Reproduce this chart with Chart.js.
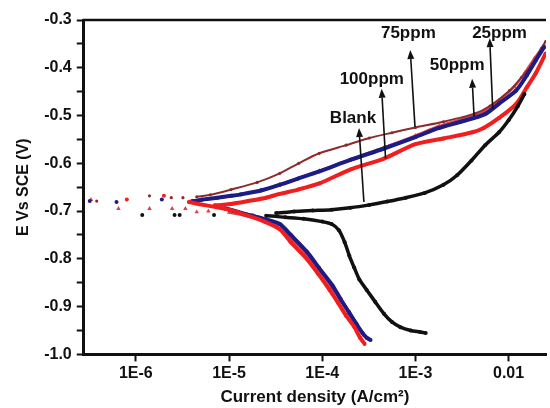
<!DOCTYPE html>
<html>
<head>
<meta charset="utf-8">
<script src="https://cdn.jsdelivr.net/npm/chart.js@4.4.0/dist/chart.umd.min.js"></script>
<style>
  html, body { margin: 0; padding: 0; background: #fff; }
  #wrap { width: 550px; height: 408px; }
</style>
</head>
<body>
<div id="wrap"><canvas id="tafelChart"></canvas></div>
<script>
// Tafel plots: current density (A/cm2) vs potential (V vs SCE)
// each series runs cathodic end -> near Ecorr -> anodic end

const blankI = [1.29e-3, 1.12e-3, 8.9e-4, 6.9e-4, 5.6e-4, 4.6e-4, 3.7e-4, 3.0e-4, 2.5e-4, 2.2e-4, 1.95e-4, 1.74e-4, 1.51e-4, 1.26e-4, 1.0e-4, 6.3e-5, 4.0e-5, 2.5e-5,
  6.9e-6, 2.95e-6, 2.6e-6, 1.17e-6,
  3.2e-5, 5.0e-5, 7.9e-5, 1.26e-4, 2.0e-4, 3.2e-4, 5.0e-4, 7.9e-4, 1.26e-3, 2.0e-3, 2.8e-3, 4.0e-3, 5.6e-3, 7.9e-3, 1.0e-2, 1.26e-2, 1.48e-2];
const blankE = [-0.955, -0.953, -0.950, -0.943, -0.932, -0.915, -0.890, -0.865, -0.843, -0.818, -0.793, -0.765, -0.740, -0.727, -0.722, -0.716, -0.713, -0.710,
  -0.708, -0.708, -0.708, -0.708,
  -0.704, -0.701, -0.699, -0.697, -0.693, -0.687, -0.680, -0.672, -0.662, -0.645, -0.625, -0.594, -0.562, -0.535, -0.510, -0.480, -0.455];

const ppm25I = [3.3e-4, 3.0e-4, 2.7e-4, 2.3e-4, 1.95e-4, 1.58e-4, 1.29e-4, 9.3e-5, 6.9e-5, 4.6e-5, 3.5e-5, 2.3e-5, 1.6e-5, 8.9e-6,
  1.9e-6, 6.2e-7, 3.2e-7,
  4.0e-6, 5.1e-6, 7.5e-6, 1.05e-5, 1.35e-5, 2.2e-5, 3.5e-5, 5.5e-5, 9.3e-5, 2.0e-4, 4.6e-4, 1.0e-3, 1.8e-3, 3.2e-3, 5.6e-3, 7.9e-3, 1.2e-2, 1.58e-2, 1.95e-2, 2.4e-2];
const ppm25E = [-0.970, -0.965, -0.955, -0.935, -0.913, -0.885, -0.856, -0.820, -0.786, -0.750, -0.727, -0.716, -0.708, -0.694,
  -0.676, -0.681, -0.679,
  -0.679, -0.676, -0.672, -0.668, -0.665, -0.657, -0.645, -0.632, -0.617, -0.593, -0.569, -0.545, -0.526, -0.512, -0.497, -0.475, -0.448, -0.415, -0.385, -0.357];

const ppm50I = [3.2e-4, 2.8e-4, 2.4e-4, 2.0e-4, 1.58e-4, 1.26e-4, 9.5e-5, 7.1e-5, 4.8e-5, 3.3e-5, 2.0e-5, 1.0e-5,
  6.0e-6, 4.5e-6, 3.4e-6, 2.45e-6, 1.4e-6, 6.5e-7, 3.3e-7,
  5.0e-6, 8.0e-6, 1.3e-5, 2.2e-5, 3.5e-5, 9.3e-5, 2.0e-4, 4.6e-4, 1.0e-3, 1.8e-3, 3.2e-3, 5.6e-3, 7.9e-3, 1.15e-2, 1.5e-2, 1.9e-2, 2.4e-2];
const ppm50E = [-0.968, -0.960, -0.940, -0.915, -0.887, -0.860, -0.826, -0.795, -0.760, -0.733, -0.716, -0.703,
  -0.700, -0.702, -0.695, -0.695, -0.695, -0.695, -0.676,
  -0.678, -0.672, -0.666, -0.656, -0.644, -0.616, -0.592, -0.567, -0.542, -0.522, -0.507, -0.490, -0.468, -0.440, -0.410, -0.380, -0.352];

const ppm75I = [3.2e-4, 2.75e-4, 2.35e-4, 1.95e-4, 1.58e-4, 1.26e-4, 9.3e-5, 6.8e-5, 4.5e-5, 3.2e-5, 1.8e-5, 1.0e-5,
  2.4e-6, 1.4e-6, 3.8e-7,
  3.2e-6, 4.5e-6, 6.3e-6, 1.05e-5, 2.0e-5, 3.5e-5, 5.6e-5, 9.3e-5, 1.8e-4, 3.2e-4, 5.6e-4, 1.0e-3, 2.0e-3, 4.3e-3, 6.3e-3, 1.02e-2, 1.38e-2, 1.82e-2, 2.24e-2, 2.5e-2];
const ppm75E = [-0.968, -0.958, -0.935, -0.910, -0.882, -0.853, -0.818, -0.783, -0.747, -0.724, -0.708, -0.697,
  -0.672, -0.668, -0.679,
  -0.672, -0.670, -0.666, -0.655, -0.640, -0.621, -0.600, -0.579, -0.562, -0.547, -0.536, -0.525, -0.513, -0.496, -0.480, -0.448, -0.420, -0.391, -0.360, -0.345];

const ppm100I = [2.85e-4, 2.55e-4, 2.2e-4, 1.82e-4, 1.48e-4, 1.2e-4, 9.1e-5, 6.9e-5, 4.6e-5, 3.5e-5, 2.4e-5, 1.5e-5, 1.05e-5,
  3.7e-6, 2.0e-6, 8.0e-7,
  7.0e-6, 1.05e-5, 1.6e-5, 2.5e-5, 3.5e-5, 5.5e-5, 9.3e-5, 2.0e-4, 4.6e-4, 1.0e-3, 2.0e-3, 4.1e-3, 5.4e-3, 7.9e-3, 1.2e-2, 1.58e-2, 1.95e-2, 2.5e-2];
const ppm100E = [-0.978, -0.965, -0.942, -0.920, -0.892, -0.865, -0.832, -0.801, -0.765, -0.738, -0.722, -0.708, -0.698,
  -0.681, -0.668, -0.676,
  -0.688, -0.685, -0.679, -0.672, -0.664, -0.655, -0.642, -0.613, -0.590, -0.560, -0.548, -0.535, -0.526, -0.505, -0.476, -0.440, -0.412, -0.370];

const xTickValues = [1e-6, 1e-5, 1e-4, 1e-3, 1e-2];
const xTickLabels = ['1E-6', '1E-5', '1E-4', '1E-3', '0.01'];

// arrow labels (data coords)
const noteLabels = ['Blank', '100ppm', '75ppm', '50ppm', '25ppm'];
const noteTailI = [2.8e-4, 4.78e-4, 9.9e-4, 4.26e-3, 6.75e-3];
const noteTailE = [-0.681, -0.590, -0.524, -0.501, -0.486];
const noteTipI = [2.48e-4, 4.34e-4, 8.8e-4, 4.06e-3, 6.27e-3];
const noteTipE = [-0.526, -0.444, -0.363, -0.423, -0.338];
const noteTextI = [2.14e-4, 3.4e-4, 8.4e-4, 2.81e-3, 8.0e-3];
const noteTextE = [-0.505, -0.425, -0.327, -0.395, -0.327];

const pts = (xs, ys) => xs.map((x, k) => ({ x: x, y: ys[k] }));
const FONT = 'Liberation Sans, Arial, sans-serif';

// no line through the sparse points near Ecorr
function seg(minI) {
  return {
    borderColor: c => (c.p0.parsed.x < minI || c.p1.parsed.x < minI) ? 'rgba(0,0,0,0)' : undefined
  };
}

function series(label, xs, ys, color, opts) {
  return Object.assign({
    label: label,
    data: pts(xs, ys),
    showLine: true,
    borderColor: color,
    backgroundColor: color,
    pointBackgroundColor: color,
    pointBorderWidth: 0,
    pointRadius: 2,
    borderWidth: 4,
    tension: 0.25,
    segment: seg(3.5e-6)
  }, opts || {});
}

const frame = {
  id: 'frame',
  afterDraw(chart) {
    const { ctx, chartArea: a } = chart;
    ctx.save();
    ctx.strokeStyle = '#111';
    ctx.lineWidth = 2.5;
    ctx.beginPath();
    ctx.moveTo(a.left - 1, a.top);
    ctx.lineTo(a.right, a.top);
    ctx.stroke();
    ctx.restore();
  }
};

const notes = {
  id: 'notes',
  afterDatasetsDraw(chart) {
    const { ctx, scales: { x, y } } = chart;
    ctx.save();
    ctx.strokeStyle = '#111';
    ctx.fillStyle = '#111';
    ctx.lineWidth = 1.6;
    noteLabels.forEach((txt, k) => {
      const x0 = x.getPixelForValue(noteTailI[k]), y0 = y.getPixelForValue(noteTailE[k]);
      const x1 = x.getPixelForValue(noteTipI[k]), y1 = y.getPixelForValue(noteTipE[k]);
      const ang = Math.atan2(y1 - y0, x1 - x0);
      const hl = 9, hw = 3.5;
      const bx = x1 - hl * Math.cos(ang), by = y1 - hl * Math.sin(ang);
      ctx.beginPath();
      ctx.moveTo(x0, y0);
      ctx.lineTo(bx, by);
      ctx.stroke();
      ctx.beginPath();
      ctx.moveTo(x1, y1);
      ctx.lineTo(bx + hw * Math.sin(ang), by - hw * Math.cos(ang));
      ctx.lineTo(bx - hw * Math.sin(ang), by + hw * Math.cos(ang));
      ctx.closePath();
      ctx.fill();
      ctx.font = 'bold 17px ' + FONT;
      ctx.textAlign = 'center';
      ctx.textBaseline = 'middle';
      ctx.fillText(txt, x.getPixelForValue(noteTextI[k]), y.getPixelForValue(noteTextE[k]));
    });
    ctx.restore();
  }
};

const ctxTafel = document.getElementById('tafelChart').getContext('2d');
const tafelChart = new Chart(ctxTafel, {
  type: 'scatter',
  data: {
    datasets: [
      series('Blank', blankI, blankE, '#111111', { borderWidth: 3.5, segment: seg(2e-5) }),
      series('100ppm', ppm100I, ppm100E, '#f01e1e'),
      series('25ppm', ppm25I, ppm25E, '#1c1c86'),
      series('75ppm', ppm75I, ppm75E, '#8a2c2c', { borderWidth: 2, pointRadius: 1.6 }),
      series('50ppm', ppm50I, ppm50E, '#d8404c', { borderWidth: 2.5, pointStyle: 'triangle', pointRadius: 2.6, segment: seg(8e-6) })
    ]
  },
  options: {
    responsive: true,
    maintainAspectRatio: false,
    animation: false,
    layout: { padding: { top: 20, right: 0, left: 14, bottom: 0 } },
    plugins: {
      legend: { display: false },
      tooltip: { enabled: false }
    },
    scales: {
      x: {
        type: 'logarithmic',
        min: 2.76e-7,
        max: 0.0252,
        afterBuildTicks: s => { s.ticks = xTickValues.map(v => ({ value: v })); },
        ticks: {
          autoSkip: false,
          maxRotation: 0,
          padding: 3,
          color: '#111',
          font: { family: FONT, size: 16, weight: 'bold' },
          callback: v => xTickLabels[Math.round(Math.log10(v)) + 6]
        },
        grid: { drawOnChartArea: false, tickLength: 7, tickWidth: 2, tickColor: '#111' },
        border: { display: true, width: 3, color: '#111' },
        title: {
          display: true,
          text: 'Current density (A/cm²)',
          color: '#111',
          font: { family: FONT, size: 17, weight: 'bold' },
          padding: { top: 1, bottom: 0 }
        }
      },
      y: {
        min: -1.0,
        max: -0.3,
        ticks: {
          stepSize: 0.05,
          autoSkip: false,
          padding: 5,
          color: '#111',
          font: { family: FONT, size: 16, weight: 'bold' },
          callback: v => Math.round(v * 100) % 10 === 0 ? v.toFixed(1) : ''
        },
        grid: { drawOnChartArea: false, tickLength: 7, tickWidth: 2, tickColor: '#111' },
        border: { display: true, width: 3, color: '#111' },
        title: {
          display: true,
          text: 'E Vs SCE (V)',
          color: '#111',
          font: { family: FONT, size: 16, weight: 'bold' },
          padding: { top: 0, bottom: 6 }
        }
      }
    }
  },
  plugins: [frame, notes]
});
</script>
</body>
</html>
